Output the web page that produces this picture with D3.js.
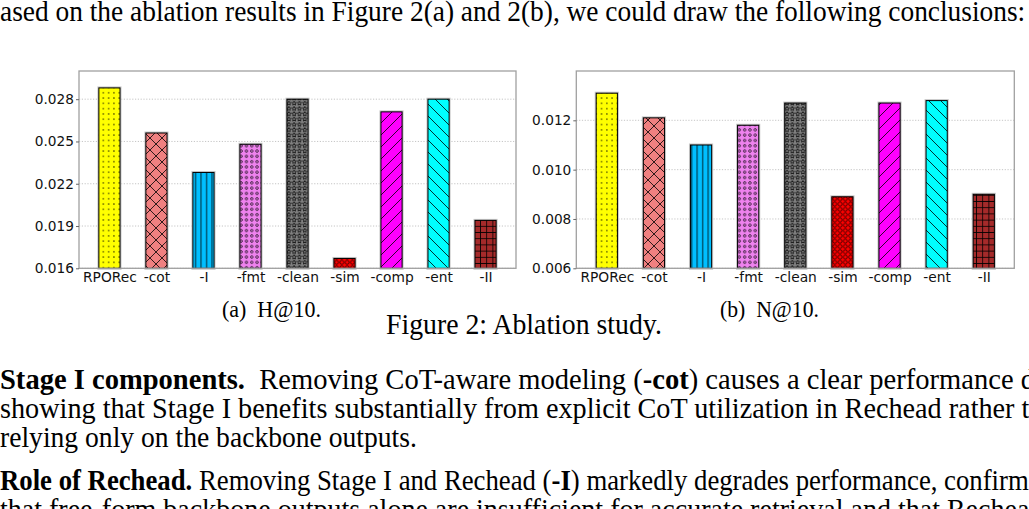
<!DOCTYPE html>
<html>
<head>
<meta charset="utf-8">
<script src="https://cdn.jsdelivr.net/npm/d3@7"></script>
<style>
  body { margin: 0; background: #fff; }
  svg { display: block; }
</style>
</head>
<body>
<svg id="page" width="1029" height="509"></svg>
<script>
// ablation variants, in plotting order
const categories = ["RPORec", "-cot", "-I", "-fmt", "-clean", "-sim", "-comp", "-ent", "-II"];
// (a) H@10
const hitValues = [0.0288, 0.0256, 0.0228, 0.0248, 0.0280, 0.0167, 0.0271, 0.0280, 0.0194];
const hitTicks = [0.016, 0.019, 0.022, 0.025, 0.028];
// (b) N@10
const ndcgValues = [0.0131, 0.0121, 0.0110, 0.0118, 0.0127, 0.0089, 0.0127, 0.0128, 0.0090];
const ndcgTicks = [0.006, 0.008, 0.010, 0.012];

const barColors = ["yellow", "lightcoral", "deepskyblue", "violet", "gray", "red", "magenta", "cyan", "brown"];
const hatches = ["dot", "cross", "vline", "ring", "star", "bigring", "fslash", "bslash", "plus"];

const serif = "'Liberation Serif', 'Times New Roman', Times, serif";

const svg = d3.select("#page");
const defs = svg.append("defs");

// ---- hatch patterns (matplotlib-like) ----
const u = 12;        // diagonal hatch period
const d = 5.3;       // shape / vertical hatch period
function pattern(id, w, h) {
  return defs.append("pattern")
    .attr("id", id)
    .attr("patternUnits", "userSpaceOnUse")
    .attr("width", w)
    .attr("height", h);
}
function linePattern(id, path, w, h) {
  pattern(id, w, h).append("path")
    .attr("d", path)
    .attr("fill", "none")
    .attr("stroke", "#000")
    .attr("stroke-width", 0.8);
}
const fs = `M0,${u}L${u},0M${-u / 2},${u / 2}L${u / 2},${-u / 2}M${u / 2},${1.5 * u}L${1.5 * u},${u / 2}`;
const bs = `M0,0L${u},${u}M${-u / 2},${u / 2}L${u / 2},${1.5 * u}M${u / 2},${-u / 2}L${1.5 * u},${u / 2}`;
linePattern("fslash", fs, u, u);
linePattern("bslash", bs, u, u);
linePattern("cross", fs + bs, u, u);
linePattern("vline", `M${d / 2},0V${d}`, d * 1.04, d);
linePattern("plus", `M${3.1},0V${6.2}M0,${3.1}H${6.2}`, 6.2, 6.2);

function starPath(cx, cy, r) {
  const pts = d3.range(10).map(i => {
    const a = -Math.PI / 2 + i * Math.PI / 5;
    const rr = i % 2 ? r * 0.45 : r;
    return [cx + rr * Math.cos(a), cy + rr * Math.sin(a)];
  });
  return "M" + pts.map(p => p.join(",")).join("L") + "Z";
}
function shapePattern(id, kind) {
  const p = pattern(id, d, d);
  const cx = d / 2, cy = d / 2;
  if (kind === "star") {
    p.append("path").attr("d", starPath(cx, cy, 2.3))
      .attr("fill", "none").attr("stroke", "#000").attr("stroke-width", 0.7);
  } else {
    const r = kind === "dot" ? 0.7 : kind === "ring" ? 1.25 : 2.0;
    p.append("circle").attr("cx", cx).attr("cy", cy).attr("r", r)
      .attr("fill", kind === "dot" ? "#000" : "none")
      .attr("stroke", kind === "dot" ? "none" : "#000")
      .attr("stroke-width", 0.65);
  }
}
shapePattern("dot", "dot");
shapePattern("ring", "ring");
shapePattern("bigring", "bigring");
shapePattern("star", "star");

// ---- bar chart ----
function barChart(values, ticks, yDomain, left, right) {
  const top = 71, bottom = 268.3;
  const x = d3.scaleLinear().domain([-0.6475, categories.length - 1 + 0.6475]).range([left, right]);
  const y = d3.scaleLinear().domain(yDomain).range([bottom, top]);
  const bw = x(0.45) - x(0);
  const g = svg.append("g");

  // grid
  g.append("g").selectAll("line").data(ticks).join("line")
    .attr("x1", left).attr("x2", right)
    .attr("y1", d => y(d)).attr("y2", d => y(d))
    .attr("stroke", "#b8b8b8")
    .attr("stroke-width", 0.8)
    .attr("stroke-dasharray", "1.2,1.6");

  const bars = g.append("g").selectAll("g").data(values).join("g");
  // soft halo around the edge
  bars.append("rect")
    .attr("x", (v, i) => x(i) - bw / 2)
    .attr("y", v => y(v))
    .attr("width", bw)
    .attr("height", v => bottom - y(v))
    .attr("fill", "none")
    .attr("stroke", "#c8c8c8")
    .attr("stroke-width", 3);
  bars.append("rect")
    .attr("x", (v, i) => x(i) - bw / 2)
    .attr("y", v => y(v))
    .attr("width", bw)
    .attr("height", v => bottom - y(v))
    .attr("fill", (v, i) => barColors[i]);
  bars.append("rect")
    .attr("x", (v, i) => x(i) - bw / 2)
    .attr("y", v => y(v))
    .attr("width", bw)
    .attr("height", v => bottom - y(v))
    .attr("fill", (v, i) => `url(#${hatches[i]})`)
    .attr("stroke", "#000")
    .attr("stroke-width", 1);

  // frame
  g.append("rect")
    .attr("x", left).attr("y", top)
    .attr("width", right - left).attr("height", bottom - top)
    .attr("fill", "none")
    .attr("stroke", "#a0a0a0")
    .attr("stroke-width", 1.3);

  // y axis
  g.append("g")
    .attr("transform", `translate(${left},0)`)
    .call(d3.axisLeft(y).tickValues(ticks).tickFormat(d3.format(".3f")).tickSize(3).tickPadding(2))
    .call(a => a.select(".domain").remove())
    .call(a => a.selectAll(".tick line").attr("stroke", "#666"))
    .call(a => a.selectAll("text")
      .attr("font-family", "DejaVu Sans")
      .attr("font-size", 13.7)
      .attr("fill", "#111"));

  // x axis
  g.append("g")
    .attr("transform", `translate(0,${bottom})`)
    .call(d3.axisBottom(x).tickValues(d3.range(categories.length)).tickFormat(i => categories[i]).tickSize(0).tickPadding(4))
    .call(a => a.select(".domain").remove())
    .call(a => a.selectAll("text")
      .attr("font-family", "DejaVu Sans")
      .attr("font-size", 13.8)
      .attr("fill", "#111"));
}

barChart(hitValues, hitTicks, [0.016, 0.030], 79, 516);
barChart(ndcgValues, ndcgTicks, [0.006, 0.014], 576.3, 1014.3);

// ---- page text ----
// each line is fitted horizontally so its visible part spans [start, end]
function fitLine(spec) {
  const t = svg.append("text")
    .attr("font-family", serif)
    .attr("font-size", spec.size)
    .attr("fill", "#000")
    .style("white-space", "pre");
  const add = s => t.append("tspan").attr("font-weight", s.b ? "bold" : null).text(s.t);
  let lead = 0;
  if (spec.lead) { add({ t: spec.lead }); lead = t.node().getComputedTextLength(); }
  spec.segs.forEach(add);
  const full = t.node().getComputedTextLength();
  const sx = (spec.end - spec.start) / (full - lead);
  if (spec.tail) add({ t: spec.tail });
  t.attr("transform", `translate(${spec.start - lead * sx},${spec.y}) scale(${sx},1)`);
}

const textLines = [
  { lead: "B", segs: [{ t: "ased on the ablation results in Figure 2(a) and 2(b), we could draw the following conclusions:" }], start: 0, end: 1026, y: 21, size: 28.5 },
  { segs: [{ t: "(a)  H@10." }], start: 222, end: 321, y: 317, size: 23 },
  { segs: [{ t: "(b)  N@10." }], start: 720, end: 819, y: 317, size: 23 },
  { segs: [{ t: "Figure 2: Ablation study." }], start: 386, end: 662, y: 334, size: 28.5 },
  { segs: [{ t: "Stage I components.", b: 1 }, { t: "  Removing CoT-aware modeling (" }, { t: "-cot", b: 1 }, { t: ") causes a clear performance" }], tail: " decrease,", start: 0, end: 1014, y: 389, size: 28.5 },
  { segs: [{ t: "showing that Stage I benefits substantially from explicit CoT utilization in Rechead rather" }], tail: " than", start: 0, end: 1015, y: 418, size: 28.5 },
  { segs: [{ t: "relying only on the backbone outputs." }], start: 0, end: 417, y: 447, size: 28.5 },
  { segs: [{ t: "Role of Rechead.", b: 1 }, { t: " Removing Stage I and Rechead (" }, { t: "-I", b: 1 }, { t: ") markedly degrades performance, confirm" }], tail: "ing", start: 0, end: 1029, y: 490, size: 28.5 },
  { segs: [{ t: "that free-form backbone outputs alone are insufficient for accurate retrieval and that Rechea" }], tail: "d", start: 0, end: 1030, y: 519, size: 28.5 }
];
textLines.forEach(fitLine);
</script>
</body>
</html>
